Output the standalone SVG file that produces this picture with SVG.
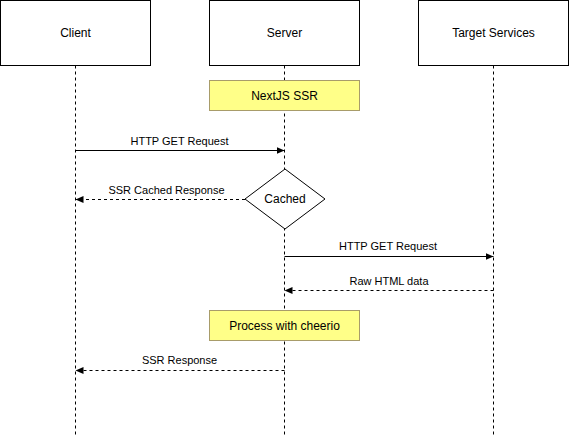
<svg xmlns="http://www.w3.org/2000/svg" width="569" height="435" viewBox="0 0 569 435">
<style>
.box{fill:#fff;stroke:#000;stroke-width:1}
.note{fill:#ffff88;stroke:#a89c6a;stroke-width:1}
.life{stroke:#000;stroke-width:1;stroke-dasharray:3 3;fill:none}
.msg{stroke:#000;stroke-width:1;fill:none}
.dash{stroke-dasharray:3 3}
.t{font-family:"Liberation Sans",Arial,sans-serif;font-size:12px;fill:#000;text-anchor:middle;dominant-baseline:central}
.l{font-family:"Liberation Sans",Arial,sans-serif;font-size:11px;fill:#000;text-anchor:middle}
</style>
<defs>
<marker id="ah" markerWidth="9" markerHeight="8" refX="8" refY="4" orient="auto" markerUnits="userSpaceOnUse">
<path d="M0,0.5 L8,4 L0,7.5 Z" fill="#000"/>
</marker>
</defs>
<rect width="569" height="435" fill="#fff"/>
<g id="lifelines">
<line class="life" x1="75.5" y1="65.5" x2="75.5" y2="435"/>
<line class="life" x1="284.5" y1="65.5" x2="284.5" y2="435"/>
<line class="life" x1="493.5" y1="65.5" x2="493.5" y2="435"/>
</g>
<g id="client"><rect class="box" x="0.5" y="0.5" width="150" height="65"/><text class="t" x="75.5" y="33">Client</text></g>
<g id="server"><rect class="box" x="209.5" y="0.5" width="150" height="65"/><text class="t" x="284.5" y="33">Server</text></g>
<g id="target"><rect class="box" x="418.5" y="0.5" width="150" height="65"/><text class="t" x="493.5" y="33">Target Services</text></g>
<g id="nextjs"><rect class="note" x="209.5" y="80.5" width="150" height="30"/><text class="t" x="284.5" y="96">NextJS SSR</text></g>
<g id="cached"><path class="box" d="M285,169 L325,199 L285,229 L245,199 Z"/><text class="t" x="285" y="199">Cached</text></g>
<g id="cheerio"><rect class="note" x="209.5" y="310.5" width="150" height="30"/><text class="t" x="284.5" y="326">Process with cheerio</text></g>
<g id="connectors">
<line class="msg" x1="75.5" y1="150.5" x2="284.5" y2="150.5" marker-end="url(#ah)"/>
<text class="l" x="179.5" y="145">HTTP GET Request</text>
<line class="msg dash" x1="245" y1="199.5" x2="75.5" y2="199.5" marker-end="url(#ah)"/>
<text class="l" x="166.5" y="194">SSR Cached Response</text>
<line class="msg" x1="284.5" y1="256.5" x2="493.5" y2="256.5" marker-end="url(#ah)"/>
<text class="l" x="388" y="250">HTTP GET Request</text>
<line class="msg dash" x1="493.5" y1="290.5" x2="284.5" y2="290.5" marker-end="url(#ah)"/>
<text class="l" x="389" y="285">Raw HTML data</text>
<line class="msg dash" x1="284.5" y1="370.5" x2="75.5" y2="370.5" marker-end="url(#ah)"/>
<text class="l" x="179.5" y="364">SSR Response</text>
</g>
</svg>
